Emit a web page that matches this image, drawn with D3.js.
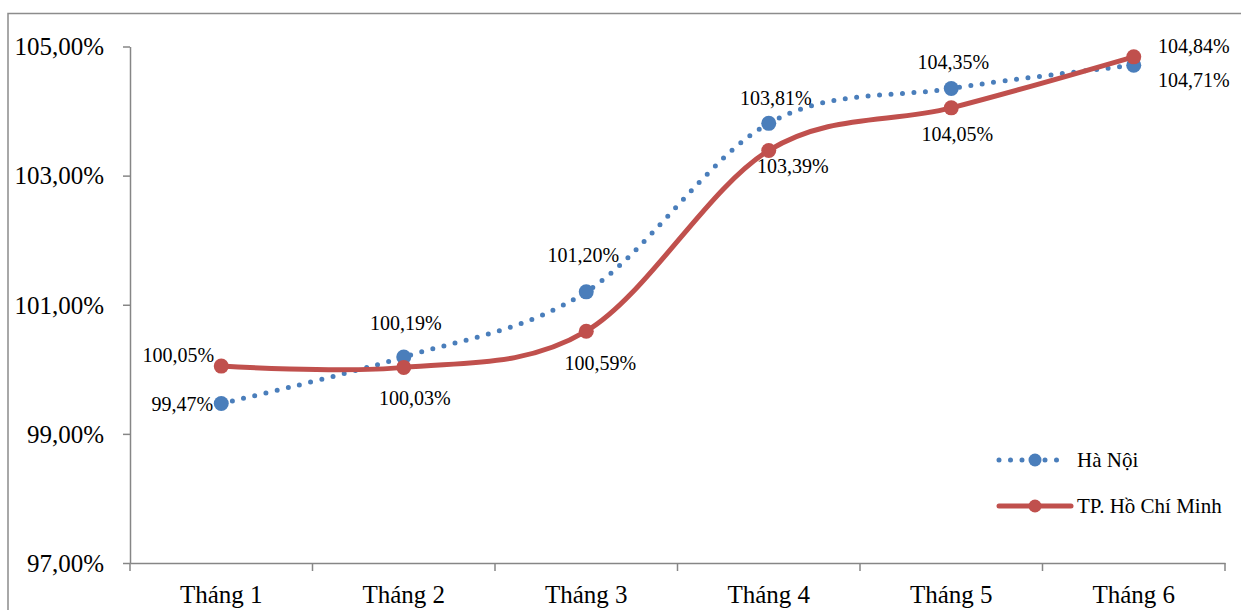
<!DOCTYPE html>
<html>
<head>
<meta charset="utf-8">
<script src="https://cdn.jsdelivr.net/npm/d3@7"></script>
<style>
  html, body { margin: 0; padding: 0; background: #fff; }
  svg { display: block; font-family: "Liberation Serif", "Times New Roman", serif; }
</style>
</head>
<body>
<svg id="chart" width="1241" height="610"></svg>
<script>
// ---- Data ----
const categories = ["Tháng 1", "Tháng 2", "Tháng 3", "Tháng 4", "Tháng 5", "Tháng 6"];
const seriesNames = ["Hà Nội", "TP. Hồ Chí Minh"];
const haNoi = [99.47, 100.19, 101.20, 103.81, 104.35, 104.71];
const hoChiMinh = [100.05, 100.03, 100.59, 103.39, 104.05, 104.84];
const yTicks = [97, 99, 101, 103, 105];

// ---- Label placement offsets (style, not data) ----
const haNoiLabelOffsets = [[-39, 1], [2, -34], [-3, -36], [7, -25], [2, -26], [60, 15]];
const hcmLabelOffsets = [[-43, -11], [11, 31], [14, 32], [24, 16], [6, 27], [60, -10]];

(function () {
const svg = d3.select("#chart");
const mLeft = 130, mRight = 1225, mTop = 46.5, mBottom = 563;

// outer frame
svg.append("rect")
  .attr("x", 8).attr("y", 13.5)
  .attr("width", 1300).attr("height", 700)
  .attr("fill", "none").attr("stroke", "#8c8c8c").attr("stroke-width", 1.5);

const x = d3.scaleBand().domain(categories).range([mLeft, mRight]).padding(0);
const y = d3.scaleLinear().domain([97, 105]).range([mBottom, mTop]);
const cx = d => x(d) + x.bandwidth() / 2;

const fmt = v => d3.format(".2f")(v).replace(".", ",") + "%";

// Y axis
const yAxis = svg.append("g")
  .attr("transform", `translate(${mLeft},0)`)
  .call(d3.axisLeft(y).tickValues(yTicks).tickSize(7).tickSizeOuter(0).tickPadding(19).tickFormat(fmt));
yAxis.select(".domain").attr("stroke", "#868686").attr("stroke-width", 1.5);
yAxis.selectAll(".tick line").attr("stroke", "#868686").attr("stroke-width", 1.5);
yAxis.selectAll(".tick text")
  .attr("font-family", "Liberation Serif").attr("font-size", 25).attr("fill", "#000")
  .attr("dy", "0.33em");

// X axis
const xAxis = svg.append("g")
  .attr("transform", `translate(0,${mBottom})`)
  .call(d3.axisBottom(x).tickSize(0).tickSizeOuter(0).tickPadding(22));
xAxis.select(".domain").attr("stroke", "#868686").attr("stroke-width", 1.5);
xAxis.selectAll(".tick text")
  .attr("font-family", "Liberation Serif").attr("font-size", 25).attr("fill", "#000")
  .attr("dy", "0.71em");
// category boundary ticks
const boundaries = categories.map(c => x(c)).concat([x(categories[categories.length - 1]) + x.bandwidth()]);
xAxis.selectAll(".bnd").data(boundaries).enter().append("line")
  .attr("x1", d => d).attr("x2", d => d).attr("y1", 0).attr("y2", 8)
  .attr("stroke", "#868686").attr("stroke-width", 1.5);

const blue = "#4a7ebb", red = "#c0504d";
const line = d3.line().x((d, i) => cx(categories[i])).y(d => y(d)).curve(d3.curveCardinal.tension(0));

// Hà Nội dotted
svg.append("path").datum(haNoi).attr("d", line)
  .attr("fill", "none").attr("stroke", blue).attr("stroke-width", 5)
  .attr("stroke-linecap", "round").attr("stroke-dasharray", "0 11.5");
// HCM solid
svg.append("path").datum(hoChiMinh).attr("d", line)
  .attr("fill", "none").attr("stroke", red).attr("stroke-width", 5)
  .attr("stroke-linecap", "round");

svg.selectAll(".mhn").data(haNoi).enter().append("circle")
  .attr("cx", (d, i) => cx(categories[i])).attr("cy", d => y(d)).attr("r", 7.5).attr("fill", blue);
svg.selectAll(".mhcm").data(hoChiMinh).enter().append("circle")
  .attr("cx", (d, i) => cx(categories[i])).attr("cy", d => y(d)).attr("r", 7.5).attr("fill", red);

function labels(data, offs) {
  svg.append("g").selectAll("text").data(data).enter().append("text")
    .attr("x", (d, i) => cx(categories[i]) + offs[i][0])
    .attr("y", (d, i) => y(d) + offs[i][1] + 6.5)
    .attr("text-anchor", "middle")
    .attr("font-family", "Liberation Serif").attr("font-size", 20).attr("fill", "#000")
    .text(d => fmt(d));
}
labels(haNoi, haNoiLabelOffsets);
labels(hoChiMinh, hcmLabelOffsets);

// Legend
const lg = svg.append("g");
const legendRows = [
  { name: seriesNames[0], color: blue, dotted: true, ly: 460 },
  { name: seriesNames[1], color: red, dotted: false, ly: 506 }
];
legendRows.forEach(r => {
  lg.append("line").attr("x1", 999).attr("x2", r.dotted ? 1066 : 1071)
    .attr("y1", r.ly).attr("y2", r.ly)
    .attr("stroke", r.color).attr("stroke-width", 5).attr("stroke-linecap", "round")
    .attr("stroke-dasharray", r.dotted ? "0 11.5" : null);
  lg.append("circle").attr("cx", 1035).attr("cy", r.ly).attr("r", 6.5).attr("fill", r.color);
  lg.append("text").attr("x", 1077).attr("y", r.ly + 7)
    .attr("font-family", "Liberation Serif").attr("font-size", 21).attr("fill", "#000")
    .text(r.name);
});
})();
</script>
</body>
</html>
